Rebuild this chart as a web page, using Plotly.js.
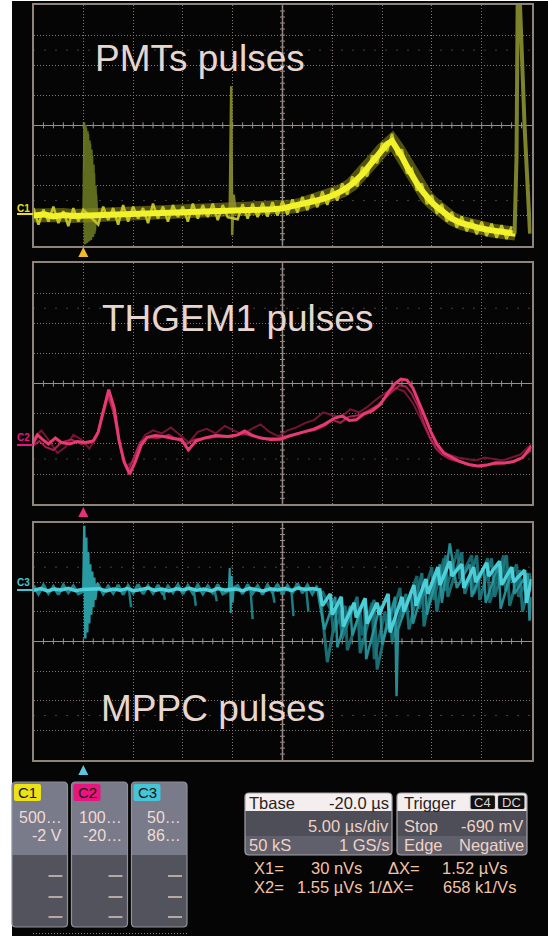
<!DOCTYPE html>
<html><head><meta charset="utf-8">
<script src="https://cdn.plot.ly/plotly-3.0.1.min.js"></script>
<style>html,body{margin:0;padding:0;background:#fff;}#chart{width:548px;height:936px;}</style>
</head><body><div id="chart"></div>
<script>
// ---------------- DATA (time in µs, level in divisions) ----------------
const panelLabels = ['PMTs pulses', 'THGEM1 pulses', 'MPPC pulses'];
const channelNames = ['C1', 'C2', 'C3'];
const channelScale = ['500…', '100…', '50…'];
const channelOffset = ['-2 V', '-20…', '86…'];

// C1 – PMT
const pmtCoreTime = [-5,-4,-3,-2,-1,0,1,2,3,4,5,6,7,8,9,10,11,12,13,14,15,16,17,18,19,20,21,22,23,24,25,26,27,28,28.5,29,29.5,30,30.5,31,31.5,32,32.5,33,33.5,34,34.5,35,35.5,36,37,38,39,40,41,42,43,43.4];
const pmtCoreLevel = [-3.0,-2.96,-3.03,-2.98,-3.01,-3.0,-2.97,-2.99,-2.94,-2.96,-2.92,-2.94,-2.9,-2.91,-2.88,-2.9,-2.86,-2.88,-2.85,-2.86,-2.87,-2.86,-2.83,-2.81,-2.79,-2.76,-2.7,-2.62,-2.53,-2.45,-2.34,-2.17,-1.95,-1.63,-1.45,-1.24,-1.02,-0.82,-0.62,-0.52,-0.75,-1.05,-1.37,-1.69,-1.93,-2.17,-2.39,-2.56,-2.71,-2.84,-3.1,-3.25,-3.36,-3.43,-3.49,-3.54,-3.58,-3.6];
const pmtHaloTime = [-5,-4.5,-4,-3.5,-3,-2.5,-2,-1.5,-1,-0.5,0,
  1.5,2,2.5,3,3.5,4,4.5,5,5.5,6,6.5,7,7.5,8,8.5,9,9.5,10,10.5,11,11.5,12,12.5,13,13.5,14,14.5,
  15.5,16,16.5,17,17.5,18,18.5,19,19.5,20,20.5,21,21.5,22,22.5,23,23.5,24,24.5,25,25.5,26,26.5,27,27.5,28,28.5,29,29.5,30,30.5,31,31.5,32,32.5,33,33.5,34,34.5,35,35.5,36,36.5,37,37.5,38,38.5,39,39.5,40,40.5,41,41.5,42,42.5,43];
const pmtHaloLevel = [-2.75,-3.3,-2.8,-3.2,-2.7,-3.25,-2.85,-3.35,-2.75,-3.2,-2.8,
  -3.3,-2.7,-3.15,-2.75,-3.3,-2.65,-3.2,-2.7,-3.1,-2.75,-3.25,-2.6,-3.1,-2.7,-3.2,-2.65,-3.05,-2.7,-3.2,-2.6,-3.1,-2.65,-3.05,-2.6,-3.15,-2.65,-3.05,
  -3.12,-2.62,-3.1,-2.6,-3.05,-2.58,-3.03,-2.55,-3.0,-2.52,-2.97,-2.46,-2.9,-2.38,-2.82,-2.3,-2.72,-2.2,-2.64,-2.1,-2.5,-1.93,-2.3,-1.7,-2.03,-1.38,-1.7,-1.0,-1.26,-0.58,-0.86,-0.28,-0.98,-0.8,-1.6,-1.45,-2.17,-1.93,-2.62,-2.33,-2.94,-2.62,-3.2,-2.88,-3.4,-3.03,-3.52,-3.14,-3.62,-3.21,-3.68,-3.27,-3.74,-3.32,-3.78,-3.36];
const pmtBurstTime = [0.0,0.1,0.2,0.3,0.4,0.5,0.6,0.7,0.8,0.9,1.0,1.1,1.2,1.3,1.4];
const pmtBurstLevel = [-3.0,0.1,-3.95,-0.1,-3.9,-0.3,-3.85,-0.6,-3.8,-1.0,-3.7,-1.6,-3.5,-2.3,-3.0];
const pmtBurst2Time = [0.05,0.15,0.25,0.35,0.45,0.55,0.65,0.75,0.85,0.95,1.05,1.15,1.25,1.35];
const pmtBurst2Level = [-1.5,-3.95,0.0,-3.9,-0.2,-3.85,-0.5,-3.8,-0.8,-3.7,-1.3,-3.6,-2.0,-3.2];
const pmtMidTime = [14.7,14.85,14.95,15.1,15.3];
const pmtMidLevel = [-2.86,1.3,-3.65,-2.3,-2.87];
const pmtEndTime = [43.3,43.5,43.62,43.78,44.3,44.85];
const pmtEndLevel = [-3.6,-1.0,4.6,4.6,0.0,-3.6];

// C2 – THGEM1
const thgemTimeA = [-5,-4.6,-4.1,-3.5,-2.8,-2.2,-1.4,-0.6,0.2,1.0,1.5,2.0,2.55,3.1,3.6,4.1,4.65,5.2,5.8,6.4,7.2,8.1,9.0,9.85,10.55,11.3,12.2,13.3,14.5,15.5,16.2,17.0,17.8,18.8,19.8,20.6,21.4,22.3,23.2,24.2,25.2,26.0,26.7,27.4,28.2,29.0,29.8,30.6,31.3,31.9,32.5,33.1,33.7,34.3,34.9,35.5,36.2,37.0,37.8,38.7,39.6,40.5,41.4,42.3,43.2,44.1,45];
const thgemLevelA = [-1.95,-1.7,-1.85,-2.0,-1.8,-1.95,-2.0,-1.92,-1.95,-1.9,-1.6,-0.9,-0.2,-0.8,-1.9,-2.6,-3.0,-2.6,-2.05,-1.78,-1.72,-1.75,-1.82,-1.85,-2.2,-1.9,-1.8,-1.72,-1.75,-1.7,-1.57,-1.72,-1.8,-1.85,-1.84,-1.75,-1.68,-1.6,-1.5,-1.35,-1.15,-1.07,-1.22,-1.2,-1.0,-0.9,-0.7,-0.3,0.0,0.15,0.12,-0.15,-0.6,-1.1,-1.6,-2.0,-2.3,-2.45,-2.58,-2.68,-2.73,-2.7,-2.62,-2.63,-2.58,-2.45,-2.07];
const thgemTimeB = [-5,-4.4,-3.8,-3.0,-2.2,-1.2,-0.2,0.8,1.4,1.9,2.45,3.0,3.5,4.0,4.55,5.1,5.7,6.5,7.5,8.6,9.6,10.4,11.2,12.4,13.6,14.8,16.0,17.2,18.4,19.6,20.8,22.0,23.2,24.2,25.0,25.8,26.6,27.6,28.6,29.6,30.4,31.2,31.8,32.4,33.0,33.6,34.2,34.8,35.4,36.0,36.8,37.8,38.8,39.8,40.8,41.8,42.8,43.8,45];
const thgemLevelB = [-2.05,-1.9,-2.1,-2.2,-1.95,-1.85,-2.0,-1.95,-1.7,-1.0,-0.35,-0.9,-1.8,-2.5,-2.85,-2.45,-1.95,-1.78,-1.8,-1.7,-1.88,-2.0,-1.85,-1.8,-1.75,-1.78,-1.65,-1.75,-1.82,-1.8,-1.7,-1.6,-1.55,-1.4,-1.2,-1.3,-1.1,-1.05,-0.9,-0.7,-0.45,-0.2,-0.05,-0.1,-0.35,-0.75,-1.3,-1.8,-2.15,-2.35,-2.5,-2.6,-2.7,-2.75,-2.68,-2.65,-2.62,-2.5,-2.2];
const thgemTimeC = [-5,-4.2,-3.4,-2.6,-1.8,-1.0,-0.2,0.6,1.3,1.9,2.5,3.1,3.7,4.3,4.9,5.5,6.2,7.0,7.9,8.8,9.7,10.6,11.5,12.4,13.3,14.2,15.1,16.0,16.9,17.8,18.7,19.6,20.5,21.4,22.3,23.2,24.1,25.0,25.9,26.8,27.7,28.6,29.5,30.4,31.3,32.2,33.1,34.0,34.9,35.8,36.7,37.6,38.5,39.4,40.3,41.2,42.1,43.0,43.9,45];
const thgemLevelC = [-1.8,-1.55,-1.9,-2.3,-2.1,-1.7,-1.85,-2.15,-1.8,-1.15,-0.45,-1.0,-2.05,-2.75,-2.6,-2.1,-1.7,-1.55,-1.65,-1.45,-1.7,-1.95,-1.6,-1.5,-1.65,-1.4,-1.55,-1.7,-1.5,-1.35,-1.6,-1.75,-1.55,-1.45,-1.3,-1.2,-0.95,-1.05,-1.1,-0.85,-0.95,-0.75,-0.5,-0.3,-0.15,-0.25,-0.65,-1.25,-1.85,-2.2,-2.35,-2.45,-2.5,-2.55,-2.45,-2.5,-2.55,-2.45,-2.35,-2.0];

// C3 – MPPC
const mppcCoreTime = [-5,-4.3,-3.6,-2.9,-2.2,-1.5,-0.8,-0.1,1.6,2.3,3.0,3.7,4.4,5.1,5.8,6.5,7.2,7.9,8.6,9.3,10.0,10.7,11.4,12.1,12.8,13.5,14.2,15.3,16.0,16.7,17.4,18.1,18.8,19.5,20.2,20.9,21.6,22.3,23.0,23.75,24.0,24.8,25.0,25.9,26.1,27.2,27.4,28.3,28.5,29.5,29.7,30.6,30.8,32.0,32.2,33.2,33.4,34.4,34.6,35.6,35.8,36.8,37.0,38.0,38.2,39.2,39.4,40.5,40.7,41.8,42.0,43.0,43.2,44.3,44.5,45];
const mppcCoreLevel = [1.72,1.78,1.7,1.76,1.73,1.79,1.71,1.75,1.77,1.7,1.76,1.72,1.78,1.71,1.75,1.8,1.72,1.76,1.7,1.77,1.74,1.79,1.72,1.76,1.7,1.78,1.73,1.76,1.71,1.79,1.74,1.7,1.77,1.73,1.78,1.72,1.8,1.75,1.78,1.74,1.2,1.6,0.9,1.5,0.5,1.3,0.8,1.45,0.6,1.3,0.9,1.6,0.3,1.5,1.0,1.9,1.2,2.1,1.6,2.5,1.9,2.7,2.2,2.6,1.8,2.5,2.0,2.65,2.2,2.7,1.9,2.5,2.0,2.4,1.3,2.1];
const mppcHaloTime = [-5,-4.5,-4,-3.5,-3,-2.5,-2,-1.5,-1,-0.5,1.5,2,2.5,3,3.5,4,4.5,5,5.5,6,6.5,7,7.5,8,8.5,9,9.5,10,10.5,11,11.5,12,12.5,13,13.5,14,15.5,16,16.5,17,17.5,18,18.5,19,19.5,20,20.5,21,21.5,22,22.5,23,23.5];
const mppcHaloLevel = [1.88,1.6,1.9,1.62,1.85,1.58,1.9,1.64,1.87,1.6,1.92,1.6,1.86,1.62,1.9,1.58,1.88,1.63,1.92,1.6,1.87,1.62,1.9,1.58,1.86,1.64,1.91,1.6,1.88,1.62,1.9,1.6,1.87,1.63,1.92,1.6,1.88,1.6,1.92,1.62,1.87,1.58,1.9,1.64,1.93,1.6,1.88,1.62,1.95,1.63,1.9,1.6,1.88];
const mppcTimeB = [23.5,24.2,25.3,25.5,26.8,27.0,28.2,28.4,29.8,30.0,31.3,31.45,31.6,32.9,33.1,34.3,34.5,35.8,36.0,36.8,37.5,38.8,39.0,40.2,40.4,41.7,41.9,43.1,43.3,44.6,44.8,45];
const mppcLevelB = [1.75,0.4,1.5,-0.2,1.2,0.2,1.4,-0.6,1.2,-0.1,1.5,-1.85,0.4,1.7,0.6,2.0,0.9,2.6,1.3,3.3,1.8,2.6,1.5,2.5,1.3,2.6,1.1,2.5,1.6,2.3,0.7,1.5];
const mppcTimeC = [23.75,24.5,25.6,26.0,27.5,27.8,29.2,29.5,30.8,31.0,32.4,32.7,34.0,34.2,35.2,35.5,36.4,36.6,38.0,38.3,39.5,39.8,41.0,41.3,42.5,42.8,43.8,44.1,45];
const mppcLevelC = [1.7,-0.7,1.3,0.1,1.5,-0.4,1.4,-0.95,1.1,0.0,1.6,0.4,2.3,0.5,2.2,1.0,2.9,1.5,3.0,1.6,2.9,1.4,2.8,1.5,2.9,1.2,2.4,1.0,2.2];
const mppcTimeD = [24.0,24.9,25.1,26.3,26.5,27.8,28.0,29.0,29.2,30.3,30.5,31.8,32.0,33.5,33.7,35.0,35.2,36.2,36.4,37.6,37.8,39.0,39.2,40.6,40.8,42.2,42.4,43.5,43.7,44.9];
const mppcLevelD = [1.7,1.0,0.3,1.2,-0.3,1.0,0.2,1.3,-0.6,1.0,0.4,1.8,0.8,2.2,1.1,2.5,1.4,2.8,1.7,3.1,2.1,2.9,1.6,2.8,1.3,2.9,1.7,2.6,1.5,2.3];
const mppcDripTime = [4.6,4.8,null,8.0,8.2,null,11.1,11.3,null,13.2,13.4,null,16.8,17.0,null,19.0,19.2,null,20.9,21.1,null,22.4,22.6];
const mppcDripLevel = [1.7,1.15,null,1.7,1.4,null,1.7,1.2,null,1.7,1.35,null,1.7,0.75,null,1.7,1.3,null,1.7,0.85,null,1.7,1.0];
const mppcBurstTime = [0.0,0.1,0.2,0.3,0.4,0.5,0.6,0.7,0.8,0.9,1.0,1.1,1.2,1.4,1.6];
const mppcBurstLevel = [1.75,3.9,0.1,3.5,0.3,3.0,0.6,2.6,0.9,2.35,1.15,2.15,1.4,1.95,1.75];
const mppcMidTime = [14.6,14.7,14.8,14.9,15.0,15.1];
const mppcMidLevel = [1.75,2.47,0.96,2.2,1.3,1.75];

// readouts
const tbaseInfo = ['Tbase', '-20.0 µs', '5.00 µs/div', '50 kS', '1 GS/s'];
const triggerInfo = ['Trigger', 'C4', 'DC', 'Stop', '-690 mV', 'Edge', 'Negative'];
const cursorRow1 = ['X1=', '30 nVs', 'ΔX=', '1.52 µVs'];
const cursorRow2 = ['X2=', '1.55 µVs', '1/ΔX=', '658 k1/Vs'];

// ---------------- STYLE ----------------
const W = 548, H = 936;
const PX = v => v / W, PY = v => 1 - v / H;
const FONT = 'Liberation Sans, Arial, sans-serif';
const GRID = '#857a73', FRAME = '#8e847d', TICK = '#9a9089';
const chColor = ['#ebe21a', '#e8157e', '#45c6d8'];
const trigColor = ['#f2b928', '#e8307a', '#5cc6de'];
const panelY = [[5, 245.7], [263, 504.3], [522.7, 760]];

function line(x, y, xa, ya, color, width, opacity) {
  return {x, y, xaxis: xa, yaxis: ya, type: 'scatter', mode: 'lines', hoverinfo: 'skip',
    line: {color, width, shape: 'linear'}, opacity: opacity === undefined ? 1 : opacity};
}
const traces = [
  line(pmtBurstTime, pmtBurstLevel, 'x', 'y', '#6f7a24', 2, 0.95),
  line(pmtBurst2Time, pmtBurst2Level, 'x', 'y', '#5f6a1e', 2, 0.95),
  line(pmtMidTime, pmtMidLevel, 'x', 'y', '#8c8f2a', 2.5, 0.9),
  line(pmtCoreTime, pmtCoreLevel, 'x', 'y', '#8f8f1c', 14, 0.55),
  line(pmtHaloTime, pmtHaloLevel, 'x', 'y', '#c9c92a', 2.5, 0.95),
  line(pmtCoreTime, pmtCoreLevel, 'x', 'y', '#f2f22a', 6, 1),
  line(pmtEndTime, pmtEndLevel, 'x', 'y', '#838a2a', 4, 0.95),
  line(thgemTimeC, thgemLevelC, 'x2', 'y2', '#7e1838', 2, 0.9),
  line(thgemTimeB, thgemLevelB, 'x2', 'y2', '#b82456', 2, 0.9),
  line(thgemTimeA, thgemLevelA, 'x2', 'y2', '#e83a72', 3, 1),
  line(mppcHaloTime, mppcHaloLevel, 'x3', 'y3', '#249098', 3, 0.9),
  line(mppcDripTime, mppcDripLevel, 'x3', 'y3', '#1f8a90', 2.5, 0.9),
  line(mppcTimeD, mppcLevelD, 'x3', 'y3', '#1a6f76', 3, 0.9),
  line(mppcTimeC, mppcLevelC, 'x3', 'y3', '#1c7a80', 3, 0.9),
  line(mppcTimeB, mppcLevelB, 'x3', 'y3', '#2a9aa2', 2.5, 0.9),
  line(mppcBurstTime, mppcBurstLevel, 'x3', 'y3', '#2a9aa2', 2.5, 1),
  line(mppcMidTime, mppcMidLevel, 'x3', 'y3', '#2a9aa2', 2, 1),
  line(mppcCoreTime, mppcCoreLevel, 'x3', 'y3', '#4fd4de', 3.5, 0.95)
];

function axX(anchor) {
  return {domain: [33.5 / W, 531.5 / W], range: [-5, 45], tick0: 0, dtick: 5, showgrid: true, gridcolor: GRID,
    griddash: '1px,2px', gridwidth: 1, zeroline: false, showline: true, mirror: true, linecolor: FRAME, linewidth: 2,
    showticklabels: false, ticks: '', anchor, fixedrange: true};
}
function axY(anchor, p) {
  return {domain: [1 - p[1] / H, 1 - p[0] / H], range: [-4, 4], tick0: 0, dtick: 1, showgrid: true, gridcolor: GRID,
    griddash: '1px,2px', gridwidth: 1, zeroline: true, zerolinecolor: TICK, zerolinewidth: 1.5, showline: true,
    mirror: true, linecolor: FRAME, linewidth: 2, showticklabels: false, ticks: '', anchor, fixedrange: true};
}

const shapes = [];
shapes.push({type: 'rect', xref: 'paper', yref: 'paper', x0: PX(12), x1: 1, y0: 0, y1: PY(1), fillcolor: '#050505', line: {width: 0}, layer: 'below'});
['', '2', '3'].forEach((s, i) => {
  const xr = 'x' + s, yr = 'y' + s;
  shapes.push({type: 'line', xref: xr, yref: yr, x0: 20, x1: 20, y0: -4, y1: 4, line: {color: TICK, width: 1.5}, layer: 'below'});
  [2.5, -2.5].forEach(v => shapes.push({type: 'line', xref: xr, yref: yr, x0: -5, x1: 45, y0: v, y1: v,
    line: {color: GRID, width: 1, dash: '1px,10px'}, layer: 'below'}));
  for (let k = -4; k <= 44; k++) {
    if (k === 20) continue;
    shapes.push({type: 'line', xref: xr, yref: yr, x0: k, x1: k, y0: -0.1, y1: 0.1, line: {color: TICK, width: 1}, layer: 'below'});
  }
  for (let j = -19; j <= 19; j++) {
    if (j === 0) continue;
    shapes.push({type: 'line', xref: xr, yref: yr, x0: 19.75, x1: 20.25, y0: j * 0.2, y1: j * 0.2, line: {color: TICK, width: 1}, layer: 'below'});
  }
});
// trigger position markers (below each panel, at t = 0)
const trigPy = [252, 512, 770];
trigPy.forEach((yy, i) => {
  const xc = 33.5 + 49.8, P = (x, y) => PX(x) + ',' + PY(y);
  shapes.push({type: 'path', xref: 'paper', yref: 'paper', path: 'M ' + P(xc - 5, yy + 5) + ' L ' + P(xc + 5, yy + 5) + ' L ' + P(xc, yy - 5) + ' Z',
    fillcolor: trigColor[i], line: {width: 0}});
});

function rr(x0, y0, x1, y1, r, fill, lineColor, top, bottom) {
  const rt = top ? r : 0, rb = bottom ? r : 0;
  const P = (x, y) => PX(x) + ',' + PY(y);
  const path = 'M ' + P(x0 + rt, y0) + ' L ' + P(x1 - rt, y0) + ' Q ' + P(x1, y0) + ' ' + P(x1, y0 + rt) +
    ' L ' + P(x1, y1 - rb) + ' Q ' + P(x1, y1) + ' ' + P(x1 - rb, y1) + ' L ' + P(x0 + rb, y1) +
    ' Q ' + P(x0, y1) + ' ' + P(x0, y1 - rb) + ' L ' + P(x0, y0 + rt) + ' Q ' + P(x0, y0) + ' ' + P(x0 + rt, y0) + ' Z';
  return {type: 'path', xref: 'paper', yref: 'paper', path, fillcolor: fill || 'rgba(0,0,0,0)',
    line: {color: lineColor || 'rgba(0,0,0,0)', width: lineColor ? 1.2 : 0}};
}
const annotations = [];
function txt(text, x, y, anchor, color, size, extra) {
  annotations.push(Object.assign({text, x: PX(x), y: PY(y), xref: 'paper', yref: 'paper', xanchor: anchor, yanchor: 'middle',
    showarrow: false, font: {family: FONT, size, color}, borderpad: 0}, extra || {}));
}

const labelPos = [[93.5, 58.7], [101, 318.7], [100, 708]];
panelLabels.forEach((t, i) => txt(t, labelPos[i][0], labelPos[i][1], 'left', '#e7d6cf', 37));

const tagY = [[208.5, 214], [437, 445], [582, 590]];
channelNames.forEach((c, i) => {
  txt('<b>' + c + '</b>', 23.5, tagY[i][0], 'center', chColor[i], 10);
  shapes.push({type: 'line', xref: 'paper', yref: 'paper', x0: PX(17), x1: PX(33), y0: PY(tagY[i][1]), y1: PY(tagY[i][1]), line: {color: chColor[i], width: 2}});
});

const boxX = [[12, 67.5], [71.5, 127.5], [131.5, 187]];
boxX.forEach((b, i) => {
  shapes.push(rr(b[0], 782, b[1], 927, 4, '#52535d', null, true, true));
  shapes.push(rr(b[0], 782, b[1], 855, 4, '#797a8a', null, true, false));
  shapes.push(rr(b[0], 782, b[1], 927, 4, null, '#8f909c', true, true));
  shapes.push(rr(b[0] + 2, 784, b[0] + 29, 801, 2, chColor[i], null, true, true));
  txt(channelNames[i], b[0] + 15.5, 792.5, 'center', '#1a1208', 15);
  txt(channelScale[i], b[1] - 5, 817, 'right', '#efdcd4', 16);
  txt(channelOffset[i], b[1] - 5, 835, 'right', '#efdcd4', 16);
  [876, 897, 917].forEach(yy => shapes.push({type: 'line', xref: 'paper', yref: 'paper', x0: PX(b[1] - 19), x1: PX(b[1] - 5),
    y0: PY(yy), y1: PY(yy), line: {color: '#d9c4bb', width: 1.5}}));
});
shapes.push({type: 'line', xref: 'paper', yref: 'paper', x0: PX(33), x1: PX(187), y0: PY(933.5), y1: PY(933.5), line: {color: '#8a8580', width: 1, dash: '1px,2px'}});

// Tbase box
shapes.push(rr(245, 793, 392, 855, 4, '#5f606c', null, true, true));
shapes.push(rr(245, 811, 392, 836, 0, '#4d4e58', null, false, false));
shapes.push(rr(245, 793, 392, 811, 4, '#f4eeee', null, true, false));
shapes.push(rr(245, 793, 392, 855, 4, null, '#a6a2a8', true, true));
txt(tbaseInfo[0], 247.5, 802.5, 'left', '#2b1f1f', 16.5);
txt(tbaseInfo[1], 390, 802.5, 'right', '#2b1f1f', 16.5);
txt(tbaseInfo[2], 390, 826, 'right', '#f0d2c4', 16.5);
txt(tbaseInfo[3], 247.5, 845, 'left', '#f0d2c4', 16.5);
txt(tbaseInfo[4], 390, 845, 'right', '#f0d2c4', 16.5);
// Trigger box
shapes.push(rr(397, 793, 527, 855, 4, '#5f606c', null, true, true));
shapes.push(rr(397, 811, 527, 836, 0, '#4d4e58', null, false, false));
shapes.push(rr(397, 793, 527, 811, 4, '#f4eeee', null, true, false));
shapes.push(rr(397, 793, 527, 855, 4, null, '#a6a2a8', true, true));
shapes.push(rr(470, 795, 495.5, 809.5, 2, '#111111', '#d8d8d8', true, true));
shapes.push(rr(497.5, 795, 525, 809.5, 2, '#111111', '#d8d8d8', true, true));
txt(triggerInfo[0], 402.5, 802.5, 'left', '#2b1f1f', 16.5);
txt(triggerInfo[1], 482.8, 802.5, 'center', '#d8d8d8', 13);
txt(triggerInfo[2], 511.3, 802.5, 'center', '#d8d8d8', 13);
txt(triggerInfo[3], 402.5, 826, 'left', '#f0d2c4', 16.5);
txt(triggerInfo[4], 524, 826, 'right', '#f0d2c4', 16.5);
txt(triggerInfo[5], 402.5, 845, 'left', '#f0d2c4', 16.5);
txt(triggerInfo[6], 525, 845, 'right', '#f0d2c4', 16.5);
// cursor readouts
txt(cursorRow1[0], 253, 868, 'left', '#f3c3a5', 16.5);
txt(cursorRow1[1], 363, 868, 'right', '#f3c3a5', 16.5);
txt(cursorRow1[2], 387, 868, 'left', '#f3c3a5', 16.5);
txt(cursorRow1[3], 508, 868, 'right', '#f3c3a5', 16.5);
txt(cursorRow2[0], 253, 887, 'left', '#f3c3a5', 16.5);
txt(cursorRow2[1], 363, 887, 'right', '#f3c3a5', 16.5);
txt(cursorRow2[2], 367, 887, 'left', '#f3c3a5', 16.5);
txt(cursorRow2[3], 517, 887, 'right', '#f3c3a5', 16.5);

const layout = {
  width: W, height: H, margin: {l: 0, r: 0, t: 0, b: 0}, paper_bgcolor: '#ffffff', plot_bgcolor: '#050505',
  showlegend: false, font: {family: FONT},
  xaxis: axX('y'), xaxis2: axX('y2'), xaxis3: axX('y3'),
  yaxis: axY('x', panelY[0]), yaxis2: axY('x2', panelY[1]), yaxis3: axY('x3', panelY[2]),
  shapes, annotations
};
Plotly.newPlot('chart', traces, layout, {staticPlot: true, displayModeBar: false});
</script></body></html>
